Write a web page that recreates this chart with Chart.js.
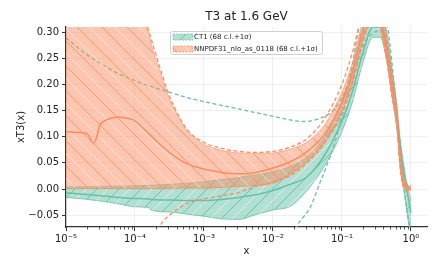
<!DOCTYPE html>
<html>
<head>
<meta charset="utf-8">
<script src="https://cdn.jsdelivr.net/npm/chart.js@4/dist/chart.umd.min.js"></script>
<style>
  body { margin: 0; background: #fff; }
  #wrap { width: 443px; height: 272px; }
</style>
</head>
<body>
<div id="wrap"><canvas id="pdfChart"></canvas></div>
<script>
// tick labels
const xTicks = [1e-5, 1e-4, 1e-3, 1e-2, 1e-1, 1];
const xTickLabels = ['10⁻⁵', '10⁻⁴', '10⁻³', '10⁻²', '10⁻¹', '10⁰'];
const yTicks = [-0.05, 0, 0.05, 0.10, 0.15, 0.20, 0.25, 0.30];

// NNPDF31 68% band + central
const xNNBand = [1e-5, 3.16e-5, 1e-4, 1.48e-4, 1.78e-4, 3.16e-4, 5.62e-4, 1e-3, 1.78e-3, 3.16e-3, 5.62e-3, 0.01, 0.0178, 0.0316, 0.0562, 0.1, 0.141, 0.2, 0.282, 0.355, 0.447, 0.525, 0.631, 0.692, 0.759, 0.871, 1.0];
const nnUpper = [0.60, 0.50, 0.37, 0.31, 0.27, 0.172, 0.112, 0.085, 0.074, 0.069, 0.068, 0.069, 0.076, 0.090, 0.122, 0.185, 0.24, 0.32, 0.36, 0.345, 0.28, 0.215, 0.14, 0.07, 0.025, 0.008, 0.004];
const nnLower = [0.001, 0.001, 0.001, 0.001, 0.001, 0.0015, 0.002, 0.002, 0.003, 0.005, 0.007, 0.011, 0.028, 0.054, 0.090, 0.150, 0.205, 0.285, 0.330, 0.315, 0.25, 0.185, 0.12, 0.05, 0.012, 0.0, -0.003];

const xNNCentral = [1e-5, 1.41e-5, 1.91e-5, 2.14e-5, 2.34e-5, 2.51e-5, 2.75e-5, 3.09e-5, 3.89e-5, 5.50e-5, 9.33e-5, 1.66e-4, 2.88e-4, 5.01e-4, 8.71e-4, 1.91e-3, 3.72e-3, 6.31e-3, 0.01, 0.0178, 0.0316, 0.0562, 0.1, 0.141, 0.2, 0.282, 0.355, 0.447, 0.525, 0.631, 0.692, 0.759, 0.871, 1.0];
const nnCentral = [0.110, 0.108, 0.107, 0.102, 0.091, 0.088, 0.097, 0.121, 0.132, 0.137, 0.132, 0.103, 0.074, 0.052, 0.040, 0.031, 0.029, 0.033, 0.040, 0.052, 0.072, 0.105, 0.165, 0.22, 0.30, 0.345, 0.33, 0.265, 0.20, 0.13, 0.06, 0.018, 0.004, 0.0];

// NNPDF31 1 sigma
const xNNSigUp = [5.62e-5, 1e-4, 1.48e-4, 1.78e-4, 3.16e-4, 5.62e-4, 1e-3, 1.78e-3, 3.16e-3, 5.62e-3, 0.01, 0.0178, 0.0316, 0.0562, 0.1, 0.141, 0.2, 0.282, 0.355, 0.447, 0.525, 0.631, 0.692, 0.759, 0.871, 1.0];
const nnSigUp = [0.50, 0.40, 0.315, 0.28, 0.178, 0.115, 0.089, 0.078, 0.072, 0.070, 0.072, 0.080, 0.097, 0.135, 0.20, 0.26, 0.335, 0.37, 0.36, 0.29, 0.225, 0.148, 0.078, 0.03, 0.01, 0.006];
const xNNSigLo = [1.91e-4, 2.51e-4, 3.16e-4, 5.62e-4, 1e-3, 1.78e-3, 3.16e-3, 5.62e-3, 0.01, 0.0178, 0.0316, 0.0562, 0.1, 0.141, 0.2, 0.282, 0.355, 0.447, 0.525, 0.631, 0.692, 0.759, 0.871, 1.0];
const nnSigLo = [-0.09, -0.063, -0.05, -0.028, -0.019, -0.013, -0.007, 0.005, 0.014, 0.026, 0.05, 0.088, 0.145, 0.20, 0.28, 0.325, 0.31, 0.245, 0.18, 0.115, 0.045, 0.008, -0.004, -0.006];

// CT1 68% band + central
const xCTBand = [1e-5, 1.78e-5, 3.16e-5, 5.62e-5, 1e-4, 1.62e-4, 1.70e-4, 3.16e-4, 5.62e-4, 1e-3, 1.78e-3, 3.16e-3, 5.62e-3, 0.01, 0.0178, 0.0316, 0.0562, 0.1, 0.141, 0.2, 0.282, 0.355, 0.447, 0.525, 0.631, 0.692, 0.759, 0.871, 1.0];
const ctUpper = [0.004, 0.0045, 0.005, 0.0055, 0.006, 0.007, 0.0072, 0.009, 0.011, 0.014, 0.018, 0.022, 0.027, 0.033, 0.043, 0.062, 0.10, 0.17, 0.23, 0.31, 0.35, 0.345, 0.30, 0.235, 0.155, 0.10, 0.06, 0.012, -0.02];
const ctCentral = [-0.007, -0.010, -0.013, -0.016, -0.018, -0.019, -0.020, -0.021, -0.022, -0.022, -0.020, -0.016, -0.011, -0.003, 0.009, 0.024, 0.065, 0.13, 0.185, 0.26, 0.31, 0.31, 0.27, 0.21, 0.135, 0.09, 0.05, 0.0, -0.045];
const ctLower = [-0.016, -0.019, -0.023, -0.028, -0.034, -0.036, -0.040, -0.044, -0.048, -0.052, -0.057, -0.058, -0.049, -0.040, -0.033, -0.002, 0.045, 0.11, 0.165, 0.24, 0.29, 0.29, 0.245, 0.185, 0.11, 0.06, 0.02, -0.04, -0.10];

// CT1 1 sigma
const xCTSigUp = [1e-5, 1.78e-5, 3.16e-5, 5.62e-5, 1e-4, 1.78e-4, 3.16e-4, 5.62e-4, 1e-3, 1.78e-3, 3.16e-3, 5.62e-3, 0.01, 0.0178, 0.0251, 0.0355, 0.0479, 0.0631, 0.0741, 0.1, 0.117, 0.141, 0.170, 0.224, 0.316, 0.398, 0.501, 0.603, 0.692, 0.759, 0.871, 1.0];
const ctSigUp = [0.289, 0.262, 0.240, 0.221, 0.207, 0.195, 0.185, 0.175, 0.167, 0.160, 0.153, 0.146, 0.139, 0.132, 0.129, 0.130, 0.135, 0.142, 0.150, 0.175, 0.195, 0.235, 0.30, 0.37, 0.40, 0.37, 0.27, 0.17, 0.09, 0.04, 0.01, 0.0];
const xCTSigLo = [0.0178, 0.0224, 0.0347, 0.0479, 0.0603, 0.0794, 0.1, 0.132, 0.182, 0.229, 0.302, 0.355, 0.417, 0.501, 0.603, 0.692, 0.759, 0.871, 1.0];
const ctSigLo = [-0.10, -0.07, -0.035, 0.012, 0.045, 0.09, 0.14, 0.19, 0.26, 0.285, 0.30, 0.303, 0.295, 0.24, 0.15, 0.07, 0.02, -0.04, -0.08];

const GREEN = '#66c2a5';
const ORANGE = '#fc8d62';

function pts(xs, ys) {
    return xs.map((x, i) => ({x: x, y: ys[i]}));
}

// hatched fill like matplotlib's hatch='/' or '\\'
function hatch(fill, line, size, dir) {
    let c = document.createElement('canvas');
    c.width = size; c.height = size;
    let g = c.getContext('2d');
    g.fillStyle = fill;
    g.fillRect(0, 0, size, size);
    const draw = (color, off) => {
        g.strokeStyle = color;
        g.lineWidth = 1;
        g.beginPath();
        for (let k = -1; k <= 1; k++) {
            let s = (k + off) * size;
            if (dir > 0) { g.moveTo(s, size); g.lineTo(s + size, 0); }
            else { g.moveTo(s, 0); g.lineTo(s + size, size); }
        }
        g.stroke();
    };
    draw('rgba(255,255,255,0.55)', 0.5);
    draw(line, 0);
    return g.createPattern(c, 'repeat');
}

const nnHatch = hatch('rgba(252,141,98,0.5)', 'rgba(252,141,98,0.8)', 25, -1);
const ctHatch = hatch('rgba(102,194,165,0.5)', 'rgba(102,194,165,0.95)', 22, 1);

function line(data, color, opts) {
    return Object.assign({
        data: data,
        borderColor: color,
        borderWidth: 1.5,
        pointRadius: 0,
        cubicInterpolationMode: 'monotone',
        fill: false,
    }, opts);
}

const minorTicks = {
    id: 'minorTicks',
    afterDraw(chart) {
        let {ctx, scales: {x}} = chart;
        ctx.save();
        ctx.strokeStyle = '#333';
        ctx.lineWidth = 0.8;
        ctx.beginPath();
        for (let d = 0; d < xTicks.length; d++) {
            for (let m = 2; m <= 9; m++) {
                let v = xTicks[d] * m;
                if (v > x.max) break;
                let px = Math.round(x.getPixelForValue(v)) + 0.5;
                ctx.moveTo(px, x.top);
                ctx.lineTo(px, x.top + 2.5);
            }
        }
        ctx.stroke();
        ctx.restore();
    }
};

const boxLegend = {
    id: 'boxLegend',
    afterDraw(chart) {
        let ctx = chart.ctx;
        let items = [
            {text: 'CT1 (68 c.l.+1σ)', fill: ctHatch, color: GREEN},
            {text: 'NNPDF31_nlo_as_0118 (68 c.l.+1σ)', fill: nnHatch, color: ORANGE},
        ];
        let x0 = 170, y0 = 31, w = 152, h = 23;
        ctx.save();
        ctx.fillStyle = 'rgba(255,255,255,0.85)';
        ctx.strokeStyle = '#d0d0d0';
        ctx.lineWidth = 1;
        ctx.beginPath();
        ctx.roundRect(x0 + 0.5, y0 + 0.5, w, h, 2);
        ctx.fill();
        ctx.stroke();
        ctx.font = '7px "DejaVu Sans"';
        ctx.textBaseline = 'middle';
        items.forEach((it, i) => {
            let cy = y0 + 6 + i * 12;
            ctx.fillStyle = it.fill;
            ctx.fillRect(x0 + 3, cy - 3, 20, 6);
            ctx.strokeStyle = it.color;
            ctx.setLineDash([2, 1.5]);
            ctx.lineWidth = 0.8;
            ctx.strokeRect(x0 + 3, cy - 3, 20, 6);
            ctx.setLineDash([]);
            ctx.fillStyle = '#222';
            ctx.fillText(it.text, x0 + 24, cy + 0.5);
        });
        ctx.restore();
    }
};

new Chart(document.getElementById('pdfChart').getContext('2d'), {
    type: 'line',
    data: {
        datasets: [
            line(pts(xNNBand, nnUpper), 'rgba(252,141,98,0.6)', {borderWidth: 1, backgroundColor: nnHatch, fill: '+1', order: 3, cubicInterpolationMode: 'default', tension: 0.2}),
            line(pts(xNNBand, nnLower), 'rgba(252,141,98,0.8)', {borderWidth: 1.2, order: 3}),
            line(pts(xNNCentral, nnCentral), ORANGE, {order: 1}),
            line(pts(xNNSigUp, nnSigUp), ORANGE, {borderWidth: 1.3, borderDash: [4, 2.5], order: 2}),
            line(pts(xNNSigLo, nnSigLo), ORANGE, {borderWidth: 1.3, borderDash: [4, 2.5], order: 2}),
            line(pts(xCTBand, ctUpper), 'rgba(102,194,165,0.6)', {borderWidth: 1, backgroundColor: ctHatch, fill: '+1', order: 7}),
            line(pts(xCTBand, ctLower), 'rgba(102,194,165,0.8)', {borderWidth: 1, order: 7}),
            line(pts(xCTBand, ctCentral), GREEN, {order: 5}),
            line(pts(xCTSigUp, ctSigUp), GREEN, {borderWidth: 1.3, borderDash: [4, 2.5], order: 6}),
            line(pts(xCTSigLo, ctSigLo), GREEN, {borderWidth: 1.3, borderDash: [4, 2.5], order: 6}),
        ]
    },
    options: {
        responsive: true,
        maintainAspectRatio: false,
        devicePixelRatio: 1,
        animation: false,
        layout: {padding: {left: 0, right: 16, top: 0, bottom: 0}},
        plugins: {
            legend: {display: false},
            tooltip: {enabled: false},
            title: {
                display: true,
                text: 'T3 at 1.6 GeV',
                fullSize: false,
                color: '#222',
                font: {family: 'DejaVu Sans', size: 12, weight: 'normal'},
                padding: {top: 9.5, bottom: 3.1},
            },
        },
        scales: {
            x: {
                type: 'logarithmic',
                min: 1e-5,
                max: 1.71,
                afterFit: (s) => { s.height = 45; },
                afterBuildTicks: (s) => { s.ticks = xTicks.map(v => ({value: v})); },
                ticks: {
                    autoSkip: false,
                    maxRotation: 0,
                    padding: 2,
                    color: '#222',
                    font: {family: 'DejaVu Sans', size: 10},
                    callback: (v) => xTickLabels[xTicks.indexOf(v)] ?? '',
                },
                grid: {color: 'rgba(0,0,0,0.06)', tickColor: '#333', tickLength: 4},
                border: {color: '#333', width: 1.2},
                title: {
                    display: true, text: 'x', color: '#222',
                    font: {family: 'DejaVu Sans', size: 10},
                    padding: {top: 0, bottom: 15},
                },
            },
            y: {
                type: 'linear',
                min: -0.0726,
                max: 0.3096,
                afterFit: (s) => { s.width = 66; },
                afterBuildTicks: (s) => { s.ticks = yTicks.map(v => ({value: v})); },
                ticks: {
                    padding: 3,
                    color: '#222',
                    font: {family: 'DejaVu Sans', size: 10},
                    callback: (v) => v.toFixed(2).replace('-', '\u2212'),
                },
                grid: {color: 'rgba(0,0,0,0.06)', tickColor: '#333', tickLength: 4},
                border: {color: '#333', width: 1.2},
                title: {
                    display: true, text: 'xT3(x)', color: '#222',
                    font: {family: 'DejaVu Sans', size: 10},
                    padding: {top: 15, bottom: 0},
                },
            },
        },
    },
    plugins: [minorTicks, boxLegend],
});
</script>
</body>
</html>
